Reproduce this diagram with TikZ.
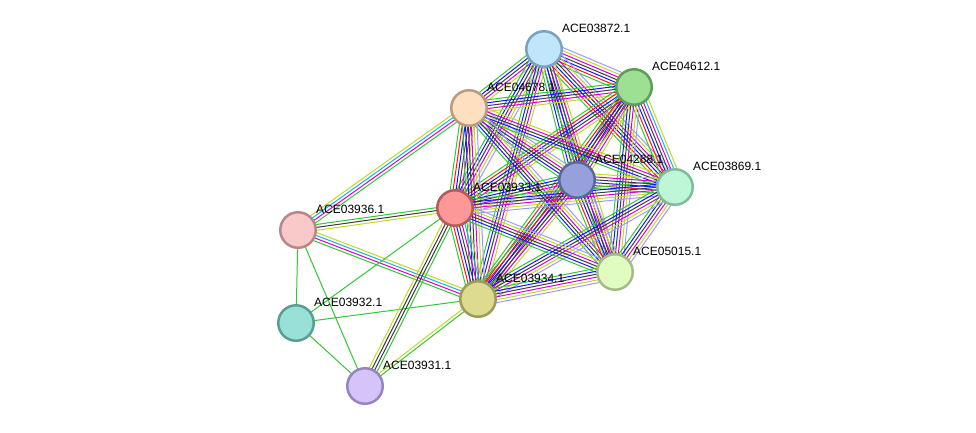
\documentclass[tikz,border=0pt]{standalone}
\usepackage{fontspec}
\setmainfont{Liberation Sans}
\usetikzlibrary{calc,backgrounds}

% evidence channel colours
\definecolor{cnb}{RGB}{50,200,50}
\definecolor{cfu}{RGB}{255,20,20}
\definecolor{cco}{RGB}{20,20,255}
\definecolor{ccx}{RGB}{60,60,60}
\definecolor{cex}{RGB}{215,0,215}
\definecolor{cdb}{RGB}{20,180,230}
\definecolor{ctm}{RGB}{195,215,40}
\definecolor{chm}{RGB}{155,155,255}

\tikzset{
	prot/.style={circle, minimum size=35.5pt, inner sep=0pt, line width=2.5pt},
	lbl/.style={anchor=west, inner sep=0pt, font=\fontsize{12}{14}\selectfont},
	nb/.style={draw=cnb}, fu/.style={draw=cfu}, co/.style={draw=cco},
	cx/.style={draw=ccx}, ex/.style={draw=cex}, db/.style={draw=cdb},
	tm/.style={draw=ctm}, hm/.style={draw=chm}
}

% parallel evidence lines between two proteins
\newcommand{\strlink}[3]{%
	\foreach \col [count=\k] in {#3} {\xdef\nlines{\k}}%
	\foreach \col [count=\k] in {#3} {%
		\pgfmathsetmacro{\off}{(\k-(\nlines+1)/2)*2.9}%
		\draw[\col, line width=1pt] ($(#1.center)!\off pt!90:(#2.center)$) -- ($(#2.center)!\off pt!-90:(#1.center)$);
	}%
}

\begin{document}
\begin{tikzpicture}[x=1pt, y=-1pt]
	\useasboundingbox (0,0) rectangle (976,432);
	
	%---------------- PROTEINS ----------------
	\definecolor{f03872}{RGB}{192,230,251} \definecolor{b03872}{RGB}{123,163,192}
	\definecolor{f04612}{RGB}{157,223,147} \definecolor{b04612}{RGB}{94,158,90}
	\definecolor{f04678}{RGB}{253,224,192} \definecolor{b04678}{RGB}{187,154,126}
	\definecolor{f04288}{RGB}{152,160,220} \definecolor{b04288}{RGB}{90,104,152}
	\definecolor{f03869}{RGB}{190,247,216} \definecolor{b03869}{RGB}{128,188,152}
	\definecolor{f03933}{RGB}{253,152,152} \definecolor{b03933}{RGB}{180,90,90}
	\definecolor{f03936}{RGB}{249,200,200} \definecolor{b03936}{RGB}{184,136,136}
	\definecolor{f05015}{RGB}{224,252,192} \definecolor{b05015}{RGB}{164,188,132}
	\definecolor{f03934}{RGB}{221,219,144} \definecolor{b03934}{RGB}{158,154,90}
	\definecolor{f03932}{RGB}{152,224,216} \definecolor{b03932}{RGB}{90,158,146}
	\definecolor{f03931}{RGB}{212,196,250} \definecolor{b03931}{RGB}{150,132,192}
	
	\foreach \N/\X/\Y in {03872/544/49, 04612/634/87, 04678/469/108, 04288/577/180,
		03869/675/187, 03933/455/208, 03936/298/230, 05015/615/272,
		03934/478/299, 03932/296/323, 03931/365/386} {
		\node[prot, fill=f\N, draw=b\N] (p\N) at (\X,\Y) {};
		\node[lbl] (l\N) at ([shift={(18,-21)}]p\N.center) {ACE\N.1};
	}
	
	%---------------- LINKS ----------------
	\begin{scope}[on background layer]
		% core cluster
		\strlink{p03872}{p04612}{nb,fu,co,cx,ex,tm,hm}
		\strlink{p03872}{p04678}{nb,co,cx,ex,tm}
		\strlink{p03872}{p04288}{nb,co,cx,ex,db,tm}
		\strlink{p03872}{p03869}{nb,fu,co,cx,ex,tm,hm}
		\strlink{p03872}{p03933}{nb,co,cx,ex,tm,hm}
		\strlink{p03872}{p05015}{nb,co,cx,ex,tm}
		\strlink{p03872}{p03934}{nb,co,cx,ex,tm}
		\strlink{p04612}{p04678}{nb,co,cx,ex,tm}
		\strlink{p04612}{p04288}{nb,fu,co,cx,ex,tm}
		\strlink{p04612}{p03869}{nb,fu,co,cx,ex,db,tm}
		\strlink{p04612}{p03933}{nb,fu,co,cx,ex,tm}
		\strlink{p04612}{p05015}{nb,co,cx,ex,tm,hm}
		\strlink{p04612}{p03934}{nb,fu,co,cx,ex,tm}
		\strlink{p04678}{p04288}{nb,co,cx,ex,tm,hm}
		\strlink{p04678}{p03869}{nb,co,cx,ex,tm}
		\strlink{p04678}{p03933}{nb,fu,co,cx,ex,tm}
		\strlink{p04678}{p05015}{nb,co,cx,ex,tm,hm}
		\strlink{p04678}{p03934}{nb,co,cx,ex,tm,hm}
		\strlink{p04288}{p03869}{nb,fu,co,cx,ex,tm}
		\strlink{p04288}{p03933}{nb,co,cx,ex,tm,hm}
		\strlink{p04288}{p05015}{nb,fu,co,cx,ex,tm,hm}
		\strlink{p04288}{p03934}{nb,fu,co,cx,ex,tm}
		\strlink{p03869}{p03933}{nb,co,cx,ex,tm,hm}
		\strlink{p03869}{p05015}{nb,co,cx,ex,tm,hm}
		\strlink{p03869}{p03934}{nb,co,cx,ex,tm,hm}
		\strlink{p03933}{p05015}{nb,co,cx,ex,tm,hm}
		\strlink{p03933}{p03934}{nb,fu,co,cx,ex,db,tm}
		\strlink{p05015}{p03934}{nb,co,cx,ex,tm,hm}
		% periphery
		\strlink{p03936}{p04678}{nb,ex,db,tm}
		\strlink{p03933}{p03936}{nb,cx,tm}
		\strlink{p03936}{p03934}{nb,ex,db,tm}
		\strlink{p03936}{p03932}{nb}
		\strlink{p03936}{p03931}{nb}
		\strlink{p03932}{p03933}{nb}
		\strlink{p03932}{p03934}{nb}
		\strlink{p03932}{p03931}{nb}
		\strlink{p03931}{p03933}{nb,cx,cx,tm}
		\strlink{p03931}{p03934}{nb,tm}
	\end{scope}
\end{tikzpicture}
\end{document}
